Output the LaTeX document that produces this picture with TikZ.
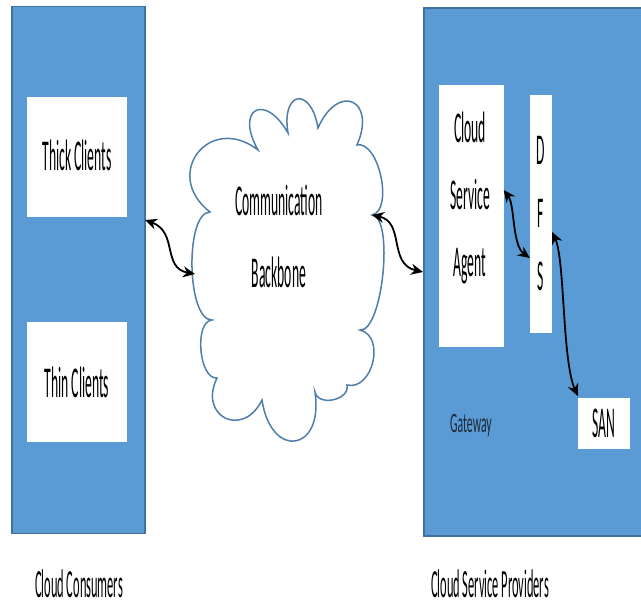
\documentclass[tikz,border=0pt]{standalone}
\usepackage{fontspec}
\setmainfont[FakeStretch=0.31]{Carlito}
\newfontfamily\gatefont[FakeStretch=0.42]{Carlito}
\usetikzlibrary{arrows.meta}

\begin{document}
\begin{tikzpicture}[x=1pt,y=-1pt]

    % Define colors
    \definecolor{panelblue}{RGB}{91,155,213}
    \definecolor{paneledge}{RGB}{65,113,156}
    \definecolor{cloudedge}{RGB}{80,126,170}
    \definecolor{gatetext}{RGB}{30,40,55}

    \tikzset{
        panel/.style={fill=panelblue, draw=paneledge, line width=1.2pt, inner sep=0pt},
        whitebox/.style={fill=white, draw=none, inner sep=0pt, align=center},
        label/.style={font=\fontsize{44}{50}\selectfont, inner sep=0pt, align=center},
        caption/.style={font=\fontsize{40}{44}\selectfont, inner sep=0pt},
        puff/.style={bend left=90, looseness=#1},
        link/.style={line width=1.8pt, {Stealth[length=12pt,width=11pt]}-{Stealth[length=12pt,width=11pt]}}
    }

    \useasboundingbox (0,0) rectangle (641,611);

    % Two sides
    \node[panel, minimum width=133pt, minimum height=527pt] (consumers) at (78.5,270) {};
    \node[panel, minimum width=220pt, minimum height=528pt] (providers) at (534,272) {};

    %-------------
    % Consumer side
    \node[whitebox, minimum width=100pt, minimum height=120pt, label] (thick) at (77,157) {\raisebox{4pt}{Thick Clients}};
    \node[whitebox, minimum width=100pt, minimum height=120pt, label] (thin) at (77,382) {Thin Clients};

    %-------------
    % Backbone (cloud outline drawn by hand)
    \draw[cloudedge, line width=1.5pt, fill=white]
        (210,212) coordinate (c0)
        to[puff=2.0] (258,150)
        to[puff=3.5] (288,133)
        to[puff=3.6] (318,128)
        to[puff=3.0] (357,145)
        to[puff=0.8] (372,215) coordinate (backboneeast)
        to[puff=0.5] (360,330)
        to[puff=1.2] (347,385)
        to[puff=1.2] (315,392)
        to[puff=2.9] (262,400)
        to[puff=2.2] (217,378)
        to[puff=0.8] (212,320)
        to[puff=0.6] (c0) -- cycle;
    \coordinate (backbonewest) at (195,274);
    \node[label, font=\fontsize{44}{72}\selectfont] (backbone) at (279,236) {Communication\\Backbone};

    %-------------
    % Provider side
    \node[whitebox, minimum width=65pt, minimum height=262pt] (agent) at (471,216) {};
    \node[label, font=\fontsize{44}{67}\selectfont] (agenttext) at (470,198) {Cloud\\Service\\Agent};
    \node[whitebox, minimum width=22pt, minimum height=238pt, label, font=\fontsize{44}{63}\selectfont] (dfs) at (541,214) {D\\F\\S};
    \node[whitebox, minimum width=52pt, minimum height=51pt, label] (san) at (604,423) {SAN};
    \node[inner sep=0pt, text=gatetext] (gateway) at (471,426) {\gatefont\fontsize{28}{30}\selectfont Gateway};

    \coordinate (consumerport) at (145,220);
    \coordinate (providerport) at (423,272);

    % Links
    \draw[link] (consumerport) .. controls (178,232) and (162,268) .. (backbonewest);
    \draw[link] (backboneeast) .. controls (405,222) and (388,264) .. (providerport);
    \draw[link] (agent.east |- 0,190) .. controls (515,205) and (512,245) .. (dfs.west |- 0,258);
    \draw[link] (dfs.east |- 0,232) .. controls (565,260) and (562,360) .. (san.west |- 0,396);

    %-------------
    % Captions
    \node[caption] (consumerslabel) at (79,584) {Cloud Consumers};
    \node[caption] (providerslabel) at (490,584) {Cloud Service Providers};

\end{tikzpicture}
\end{document}
